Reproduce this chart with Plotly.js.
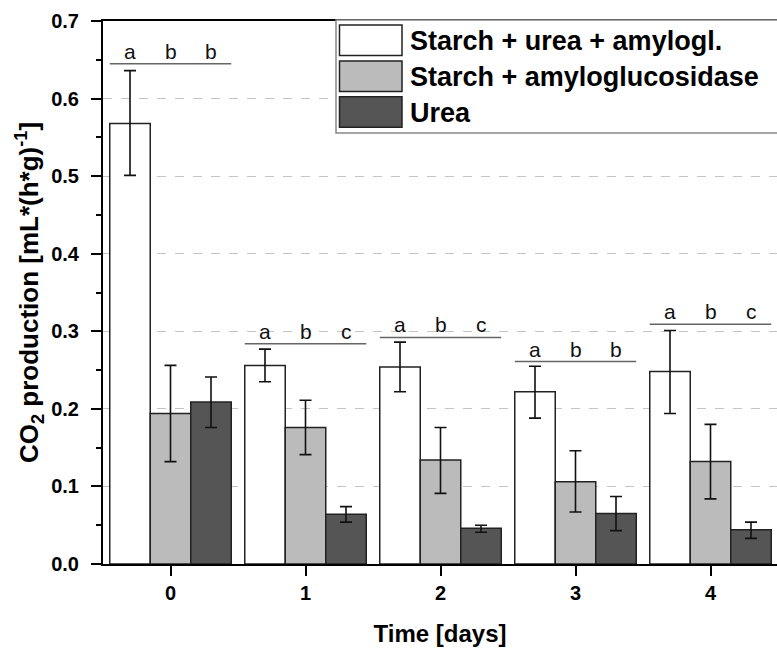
<!DOCTYPE html>
<html>
<head>
<meta charset="utf-8">
<script src="https://cdn.plot.ly/plotly-3.0.1.min.js"></script>
<style>html,body{margin:0;padding:0;background:#fff;}#chart{width:777px;height:649px;}</style>
</head>
<body>
<div id="chart"></div>
<script>
// ---- data ----
const days = [0, 1, 2, 3, 4];
const dayLabels = ["0", "1", "2", "3", "4"];
const seriesNames = ["Starch + urea + amylogl.", "Starch + amyloglucosidase", "Urea"];
const seriesColors = ["#ffffff", "#bbbbbb", "#555555"];

const suaMean = [0.568, 0.256, 0.254, 0.222, 0.248];
const suaErrPlus = [0.068, 0.021, 0.032, 0.033, 0.053];
const suaErrMinus = [0.067, 0.021, 0.032, 0.034, 0.054];

const saMean = [0.194, 0.176, 0.134, 0.106, 0.132];
const saErrPlus = [0.062, 0.035, 0.042, 0.040, 0.048];
const saErrMinus = [0.062, 0.035, 0.043, 0.039, 0.048];

const ureaMean = [0.209, 0.064, 0.046, 0.065, 0.044];
const ureaErrPlus = [0.032, 0.010, 0.004, 0.022, 0.010];
const ureaErrMinus = [0.033, 0.010, 0.005, 0.022, 0.011];

const sigLineY = [0.645, 0.284, 0.292, 0.261, 0.309];
const sigLetters = [["a", "b", "b"], ["a", "b", "c"], ["a", "b", "c"], ["a", "b", "b"], ["a", "b", "c"]];

const yTickVals = [0, 0.1, 0.2, 0.3, 0.4, 0.5, 0.6, 0.7];
const yTickText = ["0.0", "0.1", "0.2", "0.3", "0.4", "0.5", "0.6", "0.7"];

// ---- build ----
const FONT = "Liberation Sans, Arial, sans-serif";
const means = [suaMean, saMean, ureaMean];
const errP = [suaErrPlus, saErrPlus, ureaErrPlus];
const errM = [suaErrMinus, saErrMinus, ureaErrMinus];

const traces = means.map((m, i) => ({
  type: "bar",
  x: days,
  y: m,
  name: seriesNames[i],
  showlegend: false,
  marker: { color: seriesColors[i], line: { color: "#222222", width: 1.5 } },
  error_y: { type: "data", symmetric: false, array: errP[i], arrayminus: errM[i],
             color: "#111111", thickness: 1.6, width: 6 }
}));

// significance lines (group extent)
const groupHalf = 0.45;
days.forEach((d, k) => {
  traces.push({
    type: "scatter", mode: "lines",
    x: [d - groupHalf, d + groupHalf],
    y: [sigLineY[k], sigLineY[k]],
    line: { color: "#666666", width: 1.5 },
    showlegend: false, hoverinfo: "skip", cliponaxis: false
  });
});

const annotations = [];
const barOffsets = [-0.3, 0, 0.3];
days.forEach((d, k) => {
  sigLetters[k].forEach((L, j) => {
    annotations.push({
      x: d + barOffsets[j], y: sigLineY[k], xref: "x", yref: "y",
      text: L, showarrow: false, yanchor: "bottom", yshift: -1,
      font: { family: FONT, size: 21, color: "#111" }
    });
  });
});

// custom legend (paper coords)
const shapes = [];
const plotL = 103, plotR = 777, plotT = 21, plotB = 564;
const px = v => (v - plotL) / (plotR - plotL);
const py = v => (plotB - v) / (plotB - plotT);
shapes.push({ type: "rect", xref: "paper", yref: "paper",
  x0: px(336), x1: px(790), y0: py(133), y1: py(20),
  fillcolor: "#ffffff", line: { color: "#888888", width: 1.5 }, layer: "above" });
const rowTop = [25, 61, 96.7];
seriesNames.forEach((n, i) => {
  shapes.push({ type: "rect", xref: "paper", yref: "paper",
    x0: px(339.5), x1: px(402), y0: py(rowTop[i] + 30.5), y1: py(rowTop[i]),
    fillcolor: seriesColors[i], line: { color: "#222222", width: 1.5 }, layer: "above" });
  annotations.push({ xref: "paper", yref: "paper", x: px(408), y: py(rowTop[i] + 16),
    xanchor: "left", yanchor: "middle", showarrow: false, text: "<b>" + n + "</b>",
    font: { family: FONT, size: 27, color: "#000" } });
});

const layout = {
  width: 777, height: 649,
  margin: { l: plotL, r: 0, t: plotT, b: 649 - plotB },
  paper_bgcolor: "#fff", plot_bgcolor: "#fff",
  barmode: "group", bargap: 0.1, bargroupgap: 0,
  showlegend: false,
  font: { family: FONT, color: "#000" },
  xaxis: {
    type: "linear", range: [-0.5, 4.4926],
    tickvals: days, ticktext: dayLabels,
    ticks: "outside", ticklen: 10, tickwidth: 2, tickcolor: "#000",
    showline: true, linecolor: "#000", linewidth: 2, mirror: true,
    showgrid: false, zeroline: false,
    tickfont: { family: FONT, size: 20, color: "#000", weight: "bold" },
    title: { text: "<b>Time [days]</b>", font: { family: FONT, size: 24, color: "#000" }, standoff: 22 }
  },
  yaxis: {
    range: [0, 0.7],
    tickvals: yTickVals, ticktext: yTickText,
    ticks: "outside", ticklen: 10, tickwidth: 2, tickcolor: "#000",
    showline: true, linecolor: "#000", linewidth: 2,
    showgrid: true, gridcolor: "#c4c4c4", griddash: "dash", gridwidth: 1,
    zeroline: false,
    minor: { dtick: 0.05, tick0: 0, ticks: "outside", ticklen: 5, tickwidth: 2, tickcolor: "#000", showgrid: false },
    ticklabelstandoff: 8,
    tickfont: { family: FONT, size: 20, color: "#000", weight: "bold" },
    title: { text: "<b>CO<sub>2</sub> production [mL*(h*g)<sup>-1</sup>]</b>", font: { family: FONT, size: 26, color: "#000" }, standoff: 5 }
  },
  annotations: annotations,
  shapes: shapes
};

Plotly.newPlot("chart", traces, layout, { displayModeBar: false, staticPlot: true });
</script>
</body>
</html>
